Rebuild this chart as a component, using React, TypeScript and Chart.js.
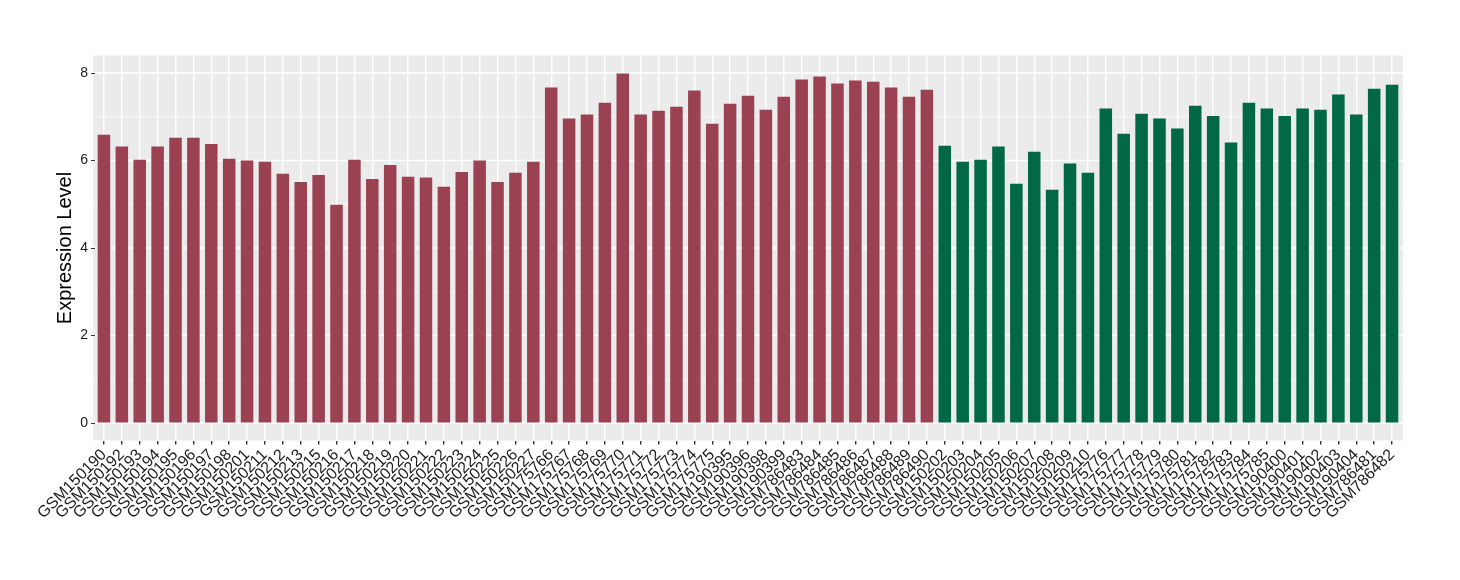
import React, { useEffect, useRef } from "react";
import { Chart, registerables } from "chart.js";

Chart.register(...registerables);

const groupALabels = [
  "GSM150190", "GSM150192", "GSM150193", "GSM150194", "GSM150195", "GSM150196", "GSM150197", "GSM150198",
  "GSM150201", "GSM150211", "GSM150212", "GSM150213", "GSM150215", "GSM150216", "GSM150217", "GSM150218",
  "GSM150219", "GSM150220", "GSM150221", "GSM150222", "GSM150223", "GSM150224", "GSM150225", "GSM150226",
  "GSM150227", "GSM175766", "GSM175767", "GSM175768", "GSM175769", "GSM175770", "GSM175771", "GSM175772",
  "GSM175773", "GSM175774", "GSM175775", "GSM190395", "GSM190396", "GSM190398", "GSM190399", "GSM786483",
  "GSM786484", "GSM786485", "GSM786486", "GSM786487", "GSM786488", "GSM786489", "GSM786490",
];
const groupAValues = [
  6.59, 6.32, 6.02, 6.32, 6.52, 6.52, 6.38, 6.04,
  6.0, 5.97, 5.7, 5.51, 5.67, 4.99, 6.02, 5.58,
  5.9, 5.63, 5.61, 5.4, 5.74, 6.0, 5.51, 5.72,
  5.97, 7.67, 6.96, 7.05, 7.32, 7.99, 7.05, 7.14,
  7.23, 7.6, 6.84, 7.3, 7.48, 7.16, 7.46, 7.85,
  7.92, 7.76, 7.83, 7.8, 7.67, 7.46, 7.62,
];
const groupBLabels = [
  "GSM150202", "GSM150203", "GSM150204", "GSM150205", "GSM150206", "GSM150207", "GSM150208", "GSM150209",
  "GSM150210", "GSM175776", "GSM175777", "GSM175778", "GSM175779", "GSM175780", "GSM175781", "GSM175782",
  "GSM175783", "GSM175784", "GSM175785", "GSM190400", "GSM190401", "GSM190402", "GSM190403", "GSM190404",
  "GSM786481", "GSM786482",
];
const groupBValues = [
  6.34, 5.97, 6.02, 6.32, 5.47, 6.2, 5.33, 5.93,
  5.72, 7.19, 6.61, 7.07, 6.96, 6.73, 7.25, 7.02,
  6.41, 7.32, 7.19, 7.02, 7.19, 7.16, 7.51, 7.05,
  7.64, 7.73,
];
const yTicks = [0, 2, 4, 6, 8];
const yMinorTicks = [1, 3, 5, 7];

const colorA = "#9A4252";
const colorB = "#006845";

const labels = [...groupALabels, ...groupBLabels];
const values = [...groupAValues, ...groupBValues];
const colors = [...groupALabels.map(() => colorA), ...groupBLabels.map(() => colorB)];

const panelPlugin = {
  id: "panelBg",
  beforeDraw(chart: any) {
    const { ctx, chartArea, scales } = chart;
    const slot = chartArea.width / labels.length;
    const ext = slot * 0.1;
    const left = chartArea.left - ext;
    const right = chartArea.right + ext;
    ctx.save();
    ctx.fillStyle = "#EBEBEB";
    ctx.fillRect(left, chartArea.top, right - left, chartArea.bottom - chartArea.top);
    ctx.strokeStyle = "#FFFFFF";
    ctx.lineWidth = 0.7;
    for (const v of yMinorTicks) {
      const y = scales.y.getPixelForValue(v);
      ctx.beginPath();
      ctx.moveTo(left, y);
      ctx.lineTo(right, y);
      ctx.stroke();
    }
    ctx.lineWidth = 1.4;
    for (const v of yTicks) {
      const y = scales.y.getPixelForValue(v);
      ctx.beginPath();
      ctx.moveTo(left, y);
      ctx.lineTo(right, y);
      ctx.stroke();
    }
    ctx.restore();
  },
};

export default function App() {
  const ref = useRef<HTMLCanvasElement>(null);
  useEffect(() => {
    if (!ref.current) return;
    const chart = new Chart(ref.current, {
      type: "bar",
      data: {
        labels,
        datasets: [
          {
            data: values,
            backgroundColor: colors,
            borderWidth: 0,
            barPercentage: 0.7,
            categoryPercentage: 1,
          },
        ],
      },
      options: {
        responsive: false,
        animation: false,
        layout: { padding: { left: 49, right: 59, top: 55.5, bottom: 0 } },
        plugins: { legend: { display: false }, tooltip: { enabled: false } },
        scales: {
          x: {
            type: "category",
            offset: true,
            grid: {
              offset: false,
              color: "#FFFFFF",
              lineWidth: 1.4,
              tickColor: "#333333",
              tickLength: 4,
              drawOnChartArea: true,
            },
            border: { display: false },
            ticks: {
              autoSkip: false,
              minRotation: 45,
              maxRotation: 45,
              padding: 1,
              color: "#1A1A1A",
              font: { family: "'Liberation Sans', Arial, sans-serif", size: 16 },
            },
            afterFit(scale: any) {
              scale.height = 139.5;
            },
          },
          y: {
            min: -0.4,
            max: 8.4,
            afterBuildTicks(scale: any) {
              scale.ticks = yTicks.map((v) => ({ value: v }));
            },
            grid: {
              color: "rgba(0,0,0,0)",
              drawOnChartArea: false,
              tickColor: "#333333",
              tickLength: 4,
            },
            border: { display: false },
            ticks: {
              padding: 3,
              color: "#1A1A1A",
              font: { family: "'Liberation Sans', Arial, sans-serif", size: 14 },
            },
            title: {
              display: true,
              text: "Expression Level",
              color: "#000000",
              padding: { top: 4, bottom: 4 },
              font: { family: "'Liberation Sans', Arial, sans-serif", size: 20 },
            },
            afterFit(scale: any) {
              scale.width = 46;
            },
          },
        },
      },
      plugins: [panelPlugin],
    });
    return () => chart.destroy();
  }, []);
  return (
    <div style={{ position: "fixed", left: 0, top: 0, width: 1460, height: 580, background: "#FFFFFF" }}>
      <canvas ref={ref} width={1460} height={580} style={{ display: "block" }} />
    </div>
  );
}
